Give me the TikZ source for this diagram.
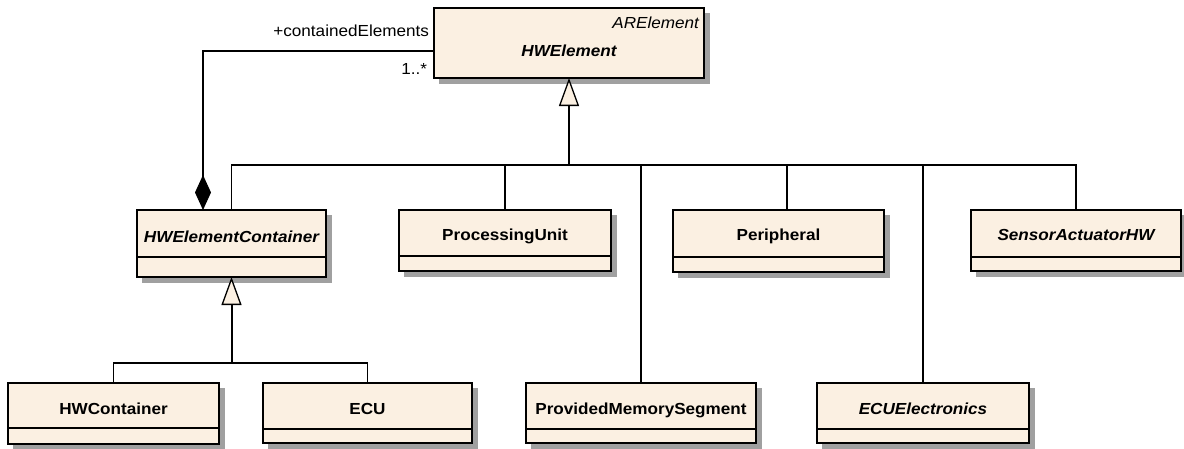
\documentclass[tikz,border=0pt]{standalone}
\usepackage{fontspec}
\setmainfont{Liberation Sans}[FakeStretch=1.07]
\usetikzlibrary{arrows.meta}
\definecolor{clsfill}{RGB}{251,240,226}
\definecolor{shadowgray}{RGB}{160,160,160}
\newcommand\umlbox[8]{%
  \path[boxshadow] ({#2+5},{#3+5}) rectangle ({#4+5},{#5+5});
  \node[cls, minimum width={#4-#2}, minimum height={#5-#3}] (#1) at ({(#2+#4)/2},{(#3+#5)/2}) {};
  \draw[clsline] (#2,#6) -- (#4,#6);
  \node[clstext, anchor=base] (#1-name) at ({(#2+#4)/2},#7) {#8};
}
\begin{document}
\begin{tikzpicture}[x=1pt,y=-1pt,
  font=\fontsize{16}{19}\selectfont,
  boxshadow/.style={fill=shadowgray, draw=shadowgray, line width=1pt},
  cls/.style={draw=black, line width=1.4pt, fill=clsfill, inner sep=0pt, outer sep=0pt},
  clsline/.style={draw=black, line width=1.2pt},
  clstext/.style={inner sep=0pt, outer sep=0pt},
  conn/.style={draw=black, line width=1.3pt},
  trunk/.style={draw=black, line width=2pt},
  gen/.style={-{Triangle[length=28pt, width=20pt, fill=clsfill, line width=1.3pt]}},
  comp/.style={-{Diamond[length=35pt, width=16pt, fill=black, line width=1pt]}},
  lbl/.style={inner sep=0pt, outer sep=0pt}
]
\useasboundingbox (0,0) rectangle (1184,448);

% HWElement
\path[boxshadow] (439,13) rectangle (709,83);
\node[cls, minimum width=270, minimum height=70] (hwe) at (569,43) {};
\node[lbl, anchor=base east] (hwe-stereo) at (699,28) {\itshape ARElement};
\node[lbl, anchor=base] (hwe-name) at (569,56) {\bfseries\itshape HWElement};

\umlbox{hwec}{137}{210}{326}{277}{257}{242}{\bfseries\itshape HWElementContainer}
\umlbox{pu}{399}{210}{611}{271}{256}{240}{\bfseries ProcessingUnit}
\umlbox{per}{673}{210}{884}{272}{257}{240}{\bfseries Peripheral}
\umlbox{sahw}{971}{210}{1181}{271}{257}{240}{\bfseries\itshape SensorActuatorHW}
\umlbox{hwc}{8}{383}{219}{444}{428}{414}{\bfseries HWContainer}
\umlbox{ecu}{263}{383}{472}{443}{429}{414}{\bfseries ECU}
\umlbox{pms}{526}{383}{756}{443}{429}{414}{\bfseries ProvidedMemorySegment}
\umlbox{ecue}{817}{383}{1029}{443}{429}{414}{\bfseries\itshape ECUElectronics}

% generalization to HWElement
\coordinate (hub) at (569,165);
\draw[conn] (hwec.north) |- (sahw.north |- hub) -- (sahw.north);
\draw[conn] (pu.north) -- (pu.north |- hub);
\draw[conn] (pms.north) -- (pms.north |- hub);
\draw[conn] ([xshift=8.5pt]per.north) -- ([xshift=8.5pt]per.north |- hub);
\draw[conn] (ecue.north) -- (ecue.north |- hub);
\draw[trunk, gen] (hub) -- (hwe.south);

% generalization to HWElementContainer
\coordinate (hub2) at (231.5,363);
\draw[conn] (hwc.north) |- (ecu.north |- hub2) -- (ecu.north);
\draw[trunk, gen] (hub2) -- (hwec.south);

% composition
\draw[conn, comp] ([yshift=-8pt]hwe.west) -| ([xshift=-28.5pt]hwec.north);
\node[lbl, anchor=base east] (role) at (429,36) {+containedElements};
\node[lbl, anchor=base east] (mult) at (427,74) {1..*};
\end{tikzpicture}
\end{document}
